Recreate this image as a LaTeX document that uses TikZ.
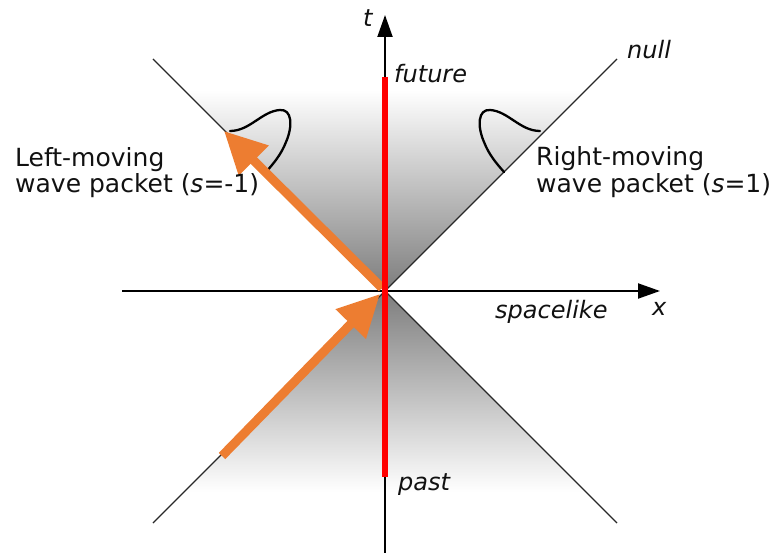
\documentclass[tikz,border=0pt]{standalone}
\usepackage{fontspec}
\setmainfont{DejaVu Sans}
\usetikzlibrary{arrows.meta}
\definecolor{orangearrow}{RGB}{237,125,49}
\definecolor{conegray}{RGB}{125,125,125}
\definecolor{txt}{RGB}{17,17,17}
\begin{document}
\begin{tikzpicture}[x=1pt,y=-1pt,
  lbl/.style={inner sep=0pt,anchor=base west,text=txt,font=\fontsize{25}{29}\selectfont},
  ilbl/.style={lbl,font=\fontsize{24}{28}\selectfont\itshape},
  nullline/.style={line width=1.2pt,draw={rgb,255:red,40;green,40;blue,40}},
  axis/.style={line width=2pt,draw=black,-{Triangle[length=22pt,width=15pt]}},
  photon/.style={line width=9pt,draw=orangearrow,-{Triangle[length=42pt,width=40pt]}},
  packet/.style={line width=2.3pt,draw=black,line cap=round}]
\useasboundingbox (0,0) rectangle (773,553);
% key points
\coordinate (O) at (385,291);
\coordinate (UL) at (153,59);
\coordinate (UR) at (617,59);
\coordinate (LL) at (153,523);
\coordinate (LR) at (617,523);
\coordinate (Tbot) at (385,553);
\coordinate (Ttop) at (385,15);
\coordinate (Xl) at (122,291);
\coordinate (Xr) at (660,291);
\coordinate (Rtop) at (385,77);
\coordinate (Rbot) at (385,477);
\coordinate (Pstart) at (222,456);
\coordinate (Ptip) at (380,294);
\coordinate (Qstart) at (382,288);
\coordinate (Qtip) at (224,131);
% shaded cones
\begin{scope}
  \clip (O) -- (UL) -- (UR) -- cycle;
  \shade[top color=white,bottom color=conegray] (140,90) rectangle (630,291);
\end{scope}
\begin{scope}
  \clip (O) -- (LL) -- (LR) -- cycle;
  \shade[top color=conegray,bottom color=white] (140,291) rectangle (630,492);
\end{scope}
% null lines
\draw[nullline] (UL) -- (LR);
\draw[nullline] (UR) -- (LL);
% axes
\draw[axis] (Tbot) -- (Ttop);
\draw[axis] (Xl) -- (Xr);
% wave packets
\draw[packet] (230,131) .. controls (250,131) and (262,111) .. (280,110)
  .. controls (292,109) and (293,126) .. (286,142)
  .. controls (281,155) and (273,164) .. (266,172);
\draw[packet] (540,131) .. controls (520,131) and (508,111) .. (490,110)
  .. controls (478,109) and (477,126) .. (484,142)
  .. controls (489,155) and (497,164) .. (504,172);
% orange arrows
\draw[photon] (Pstart) -- (Ptip);
\draw[photon] (Qstart) -- (Qtip);
% red worldline
\draw[line width=6pt,draw=red] (Rtop) -- (Rbot);
% labels
\node[ilbl] (lt) at (363,27) {t};
\node[ilbl] (lx) at (652,315) {x};
\node[ilbl] (lfuture) at (394,83) {future};
\node[ilbl] (lpast) at (398,490) {past};
\node[ilbl] (lnull) at (627,59) {null};
\node[ilbl] (lspace) at (495,318) {spacelike};
\node[lbl] (ll1) at (15,167) {Left-moving};
\node[lbl] (ll2) at (15,193) {wave packet (\textit{s}=-1)};
\node[lbl] (lr1) at (536,166) {Right-moving};
\node[lbl] (lr2) at (536,193) {wave packet (\textit{s}=1)};
\end{tikzpicture}
\end{document}
